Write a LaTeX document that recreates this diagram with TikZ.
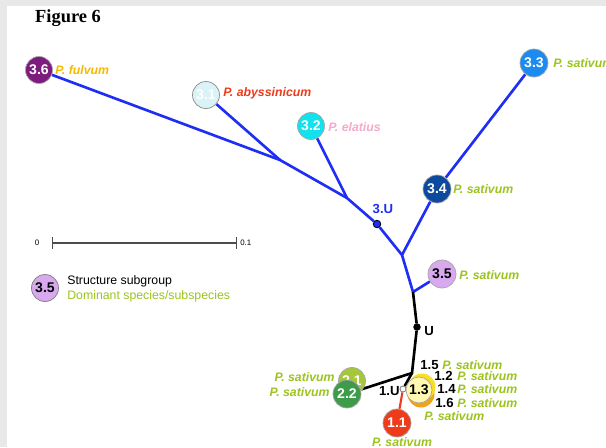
\documentclass[tikz,border=0pt]{standalone}
\usepackage{fontspec}
\setmainfont{Liberation Serif}
\setsansfont{Liberation Sans}
\usetikzlibrary{backgrounds}

\definecolor{treeblue}{HTML}{1F2EF5}
\definecolor{c36}{HTML}{7D1B7E}
\definecolor{c31}{HTML}{DAF3F7}
\definecolor{c32}{HTML}{12E2EE}
\definecolor{c33}{HTML}{1C8BF0}
\definecolor{c34}{HTML}{0D4A9E}
\definecolor{c35}{HTML}{D8A9EE}
\definecolor{c21}{HTML}{A6C63C}
\definecolor{c22}{HTML}{3E9B4A}
\definecolor{c11}{HTML}{EE3B1B}
\definecolor{c12}{HTML}{F8DF24}
\definecolor{c16}{HTML}{F2A21A}
\definecolor{c13}{HTML}{FFF7B2}
\definecolor{spgreen}{HTML}{9CC41F}
\definecolor{sporange}{HTML}{F7B900}
\definecolor{spred}{HTML}{EE3B1B}
\definecolor{sppink}{HTML}{F6A9CB}

\begin{document}
\begin{tikzpicture}[x=0.02cm,y=-0.02cm,
  grp/.style={circle,draw=black!35,line width=0.4pt,inner sep=0pt,minimum size=0.54cm,
    font=\sffamily\bfseries\fontsize{8}{9}\selectfont,text=white},
  spc/.style={anchor=west,inner sep=0pt,text=spgreen,
    font=\sffamily\bfseries\itshape\fontsize{7}{8}\selectfont},
  num/.style={anchor=west,inner sep=0pt,font=\sffamily\bfseries\fontsize{7.5}{8}\selectfont},
  legend/.style={anchor=west,inner sep=0pt,font=\sffamily\fontsize{7}{8}\selectfont},
  branch/.style={line width=1.5pt,draw=treeblue},
  stem/.style={line width=1.5pt,draw=black},
  dot/.style={circle,draw=black,line width=0.5pt,inner sep=0pt,minimum size=0.15cm}]

\useasboundingbox (0,0) rectangle (606,447);

\node[anchor=west,font=\bfseries\fontsize{10.5}{12}\selectfont] (fig) at (29,18) {Figure 6};

% junctions of the tree
\coordinate (j1) at (280,160);
\coordinate (j2) at (347,198);
\coordinate (j3) at (402,255);
\coordinate (j4) at (413,292);
\coordinate (j5) at (412,373);

% group 3
\node[grp,fill=c36] (s36) at (39,70) {3.6};
\node[grp,fill=c31,draw=black!45] (s31) at (206,95) {3.1};
\node[grp,fill=c32] (s32) at (311,126) {3.2};
\node[grp,fill=c33,minimum size=0.56cm] (s33) at (534,63) {3.3};
\node[grp,fill=c34,minimum size=0.56cm] (s34) at (437,189) {3.4};
\node[grp,fill=c35,text=black,minimum size=0.56cm] (s35) at (442,274) {3.5};
\node[dot,fill=treeblue] (u3) at (377,224) {};
\node[dot,fill=black,minimum size=0.13cm] (u) at (417,327) {};

% groups 2 and 1
\node[grp,fill=c21] (s21) at (352,381) {2.1};
\node[grp,fill=c22,minimum size=0.56cm] (s22) at (347,394) {2.2};
\node[grp,fill=c11,minimum size=0.56cm] (s11) at (397,423) {1.1};
\node[dot,fill=white,draw=black!50,minimum size=0.12cm] (u1) at (403,389) {};
\node[grp,fill=c16,draw=none] (s16) at (421,394) {};
\node[grp,fill=c12,draw=none] (s12) at (422,387) {};
\node[grp,fill=c13,text=black,minimum size=0.52cm] (s13) at (419,390) {1.3};

\begin{scope}[on background layer]
  \fill[black!9] (0,0) rectangle (606,447);
  \fill[white] (7,6) rectangle (606,447);
  \draw[branch] (s36) -- (j1) -- (j2) -- (u3) -- (j3) -- (j4);
  \draw[branch] (s31) -- (j1);
  \draw[branch] (s32) -- (j2);
  \draw[branch] (j3) -- (s34) -- (s33);
  \draw[branch] (j4) -- (s35);
  \draw[stem] (j4) -- (u) -- (j5) -- (s22);
  \draw[stem] (j5) -- (u1);
  \draw[line width=1.2pt,draw=c11] (u1) -- (s11);
\end{scope}

% species labels
\node[spc,text=sporange] (l36) at (55,70) {P. fulvum};
\node[spc,text=spred] (l31) at (223,93) {P. abyssinicum};
\node[spc,text=sppink] (l32) at (328,127) {P. elatius};
\node[spc] (l33) at (553,63) {P. sativum};
\node[spc] (l34) at (453,189) {P. sativum};
\node[spc] (l35) at (459,275) {P. sativum};
\node[num,anchor=center,text=treeblue] (t3u) at (383,209) {3.U};
\node[num] (tu) at (424,331) {U};
\node[num,anchor=east] (t1u) at (400,391) {1.U};

\node[num] (t15) at (420,365) {1.5};
\node[spc] (l15) at (442,365) {P. sativum};
\node[num] (t12) at (434,376) {1.2};
\node[spc] (l12) at (457,376) {P. sativum};
\node[num] (t14) at (437,389) {1.4};
\node[spc] (l14) at (457,389) {P. sativum};
\node[num] (t16) at (435,403) {1.6};
\node[spc] (l16) at (457,403) {P. sativum};
\node[spc] (l13) at (424,416) {P. sativum};
\node[spc,anchor=center] (l11) at (402,442) {P. sativum};
\node[spc,anchor=east] (l21) at (335,377) {P. sativum};
\node[spc,anchor=east] (l22) at (330,392) {P. sativum};

% scale bar
\node[legend,anchor=center,font=\sffamily\fontsize{4.5}{5}\selectfont] (sb0) at (37,243) {0};
\coordinate (sbl) at (52,243);
\coordinate (sbr) at (237,243);
\draw[black!70,line width=0.7pt,|-|] (sbl) -- (sbr);
\node[legend,font=\sffamily\fontsize{4.5}{5}\selectfont] (sb1) at (240,243) {0.1};

% legend
\node[grp,fill=c35,draw=black!50,text=black] (k35) at (45,288) {3.5};
\node[legend] (kt1) at (67,281) {Structure subgroup};
\node[legend,text=spgreen] (kt2) at (67,296) {Dominant species/subspecies};
\end{tikzpicture}
\end{document}
